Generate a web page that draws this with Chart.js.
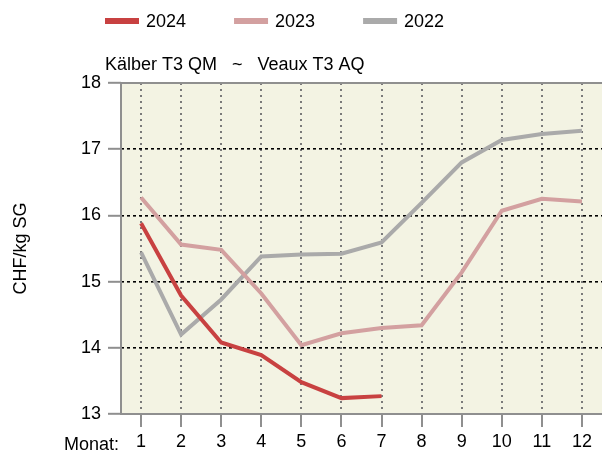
<!DOCTYPE html>
<html>
<head>
<meta charset="utf-8">
<script src="https://cdn.jsdelivr.net/npm/chart.js@4.4.1/dist/chart.umd.min.js"></script>
<style>
  html, body { margin: 0; padding: 0; background: #ffffff; }
  #wrap { width: 603px; height: 454px; position: relative; }
</style>
</head>
<body>
<div id="wrap"><canvas id="priceChart"></canvas></div>
<script>
// Monatswerte CHF/kg SG
const months = ['1', '2', '3', '4', '5', '6', '7', '8', '9', '10', '11', '12'];
const prices2024 = [15.88, 14.79, 14.08, 13.89, 13.48, 13.24, 13.27];
const prices2023 = [16.27, 15.56, 15.48, 14.82, 14.04, 14.22, 14.30, 14.34, 15.14, 16.07, 16.25, 16.21];
const prices2022 = [15.44, 14.20, 14.73, 15.38, 15.41, 15.42, 15.59, 16.19, 16.80, 17.14, 17.23, 17.28];
const yTicks = [13, 14, 15, 16, 17, 18];

const FONT = 'Arial, "Liberation Sans", sans-serif';
const frameColor = '#8f8f8f';

// plot background, frame, legend and header texts
const decorPlugin = {
    id: 'decor',
    beforeDraw(chart) {
        const {ctx, chartArea: a} = chart;
        ctx.save();
        ctx.fillStyle = '#f3f3e3';
        ctx.fillRect(a.left, a.top, a.right - a.left, a.bottom - a.top);
        ctx.restore();
    },
    beforeDatasetsDraw(chart) {
        const {ctx, chartArea: a} = chart;
        ctx.save();
        ctx.strokeStyle = frameColor;
        ctx.lineWidth = 2;
        ctx.beginPath();
        ctx.moveTo(a.right, a.top);
        ctx.lineTo(a.left, a.top);
        ctx.lineTo(a.left, a.bottom);
        ctx.lineTo(a.right, a.bottom);
        ctx.stroke();
        ctx.restore();
    },
    afterDraw(chart) {
        const {ctx, chartArea: a} = chart;
        ctx.save();
        ctx.font = '18px ' + FONT;
        ctx.fillStyle = '#000';
        ctx.textBaseline = 'middle';
        // legend
        let x = a.left - 16;
        chart.data.datasets.forEach(ds => {
            ctx.strokeStyle = ds.borderColor;
            ctx.lineWidth = 6;
            ctx.beginPath();
            ctx.moveTo(x, 21);
            ctx.lineTo(x + 34, 21);
            ctx.stroke();
            ctx.fillText(ds.label, x + 41, 22);
            x += 41 + ctx.measureText(ds.label).width + 48;
        });
        // subtitle
        ctx.textBaseline = 'alphabetic';
        ctx.fillText('Kälber T3 QM   ~   Veaux T3 AQ', a.left - 16, 70);
        // x axis caption
        ctx.textAlign = 'right';
        ctx.fillText('Monat:', a.left - 2, 450);
        ctx.restore();
    }
};

new Chart(document.getElementById('priceChart'), {
    type: 'line',
    data: {
        labels: months,
        datasets: [
            { label: '2024', data: prices2024, borderColor: '#c84141' },
            { label: '2023', data: prices2023, borderColor: '#d3a0a0' },
            { label: '2022', data: prices2022, borderColor: '#aaaaaa' }
        ]
    },
    options: {
        responsive: true,
        maintainAspectRatio: false,
        animation: false,
        layout: { padding: { top: 83, right: 1, bottom: 0, left: 4 } },
        elements: {
            line: { borderWidth: 4, tension: 0, fill: false },
            point: { radius: 0 }
        },
        plugins: {
            legend: { display: false },
            tooltip: { enabled: false }
        },
        scales: {
            x: {
                type: 'category',
                offset: true,
                afterFit(scale) { scale.height = 40; },
                border: { display: false, dash: [2, 4] },
                grid: {
                    offset: false,
                    color: '#7a7a7a',
                    lineWidth: 2,
                    tickColor: frameColor,
                    tickLength: 13,
                    tickWidth: 2
                },
                ticks: {
                    color: '#000',
                    font: { size: 18, family: FONT },
                    padding: 4,
                    maxRotation: 0,
                    autoSkip: false
                }
            },
            y: {
                min: 13,
                max: 18,
                afterBuildTicks(scale) {
                    scale.ticks = yTicks.map(v => ({ value: v }));
                },
                afterFit(scale) { scale.width = 117; },
                border: { display: false, dash: [3, 3] },
                grid: {
                    color: ctx => (ctx.tick && (ctx.tick.value === 13 || ctx.tick.value === 18)) ? 'rgba(0,0,0,0)' : '#000000',
                    lineWidth: 1.6,
                    tickColor: frameColor,
                    tickLength: 13,
                    tickWidth: 2
                },
                ticks: {
                    color: '#000',
                    font: { size: 18, family: FONT },
                    padding: 7
                },
                title: {
                    display: true,
                    text: 'CHF/kg SG',
                    color: '#000',
                    font: { size: 18, family: FONT },
                    padding: { top: 6, bottom: 10 }
                }
            }
        }
    },
    plugins: [decorPlugin]
});
</script>
</body>
</html>
